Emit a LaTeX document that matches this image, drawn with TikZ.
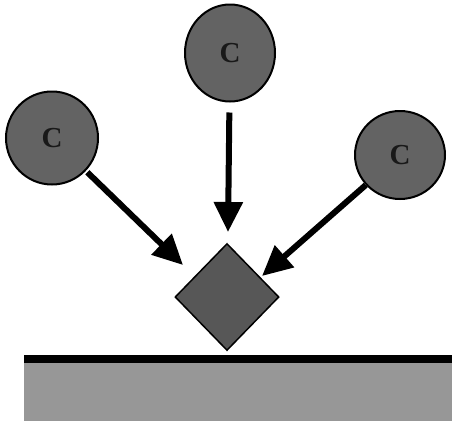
\documentclass[tikz,border=0pt]{standalone}
\usepackage{fontspec}
\setmainfont{Liberation Serif}
\usetikzlibrary{shapes.geometric,arrows.meta}
\definecolor{ballgray}{HTML}{636363}
\definecolor{gemgray}{HTML}{575757}
\definecolor{floorgray}{HTML}{979797}
\tikzset{
  ball/.style={ellipse, draw=black, line width=2pt, fill=ballgray, inner sep=0pt,
    font=\fontsize{29}{29}\selectfont\bfseries, text=black!90},
  gem/.style={diamond, draw=black, line width=1.5pt, fill=gemgray, inner sep=0pt,
    minimum width=104pt, minimum height=107pt},
  arr/.style={line width=6pt, -{Triangle[length=30pt,width=28pt]}}
}
\begin{document}
\begin{tikzpicture}[x=1pt,y=-1pt]
\useasboundingbox (0,0) rectangle (452,421);
% floor
\fill[floorgray] (24,362) rectangle (452,421);
\fill[black] (24,355) rectangle (452,363);
% balls
\node[ball, minimum width=92pt, minimum height=93pt] (c1) at (52,138) {C};
\node[ball, minimum width=90pt, minimum height=97pt] (c2) at (230,53) {C};
\node[ball, minimum width=90pt, minimum height=88pt] (c3) at (400,155) {C};
% diamond
\node[gem] (d) at (227,297) {};
% arrow tips
\coordinate (t1) at (183,265);
\coordinate (t2) at (228,232);
\coordinate (t3) at (262,276);
\draw[arr, shorten <=2pt] (c1) -- (t1);
\draw[arr, shorten <=10pt] (c2) -- (t2);
\draw[arr] (c3) -- (t3);
\end{tikzpicture}
\end{document}
